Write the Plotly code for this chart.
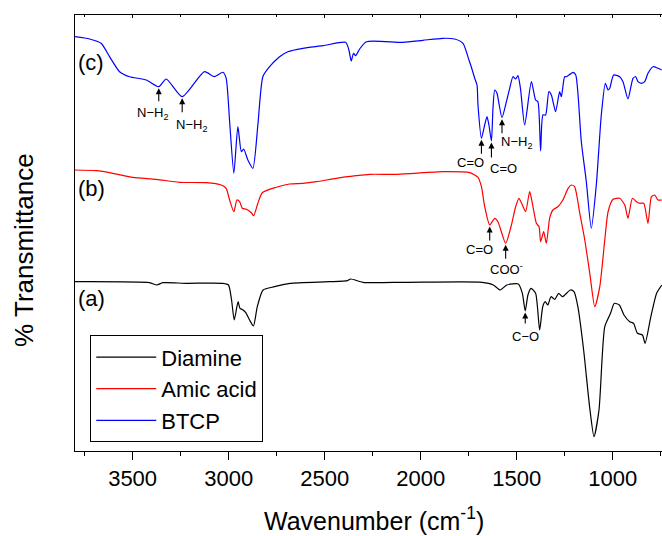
import numpy as np
import plotly.graph_objects as go

# ---------------- data (wavenumber in cm-1, transmittance in arbitrary offset units) ----------------
btcp_wn = [3800, 3724, 3664, 3620, 3568, 3516, 3429, 3364, 3325, 3242, 3126, 3074, 3030, 3013, 2995,
           2973, 2952, 2934, 2922, 2900, 2874, 2848, 2822, 2787, 2735, 2692, 2614, 2509, 2391, 2374,
           2362, 2350, 2339, 2318, 2283, 2093, 1989, 1885, 1824, 1780, 1749, 1737, 1719, 1707, 1702,
           1684, 1667, 1655, 1645, 1632, 1624, 1615, 1603, 1593, 1577, 1554, 1537, 1520, 1506, 1494,
           1481, 1459, 1424, 1402, 1390, 1376, 1364, 1350, 1333, 1320, 1298, 1277, 1268, 1251, 1242,
           1207, 1193, 1181, 1164, 1138, 1112, 1086, 1060, 1039, 1025, 1016, 996, 964, 947, 921,
           895, 881, 869, 851, 834, 817, 791, 765, 746]
btcp_t = [414.3, 412, 407.7, 394.3, 379.3, 374.3, 371, 364.3, 372, 354.3, 379.3, 374.3, 378.7, 372.7, 329.3,
          277.7, 324.3, 299.3, 302, 291, 282.7, 326, 374.3, 384.3, 394.3, 399.3, 402.7, 405.3, 408.7, 401,
          390, 397.7, 395.3, 402, 409.3, 408.7, 410.7, 412.7, 412, 407.7, 391, 384.3, 372.7, 366, 346,
          312.7, 326, 334.3, 326, 310, 342.7, 361, 357.7, 347.7, 333.3, 349.3, 362.7, 374.3, 372, 375.3,
          362.7, 326, 369.3, 351, 349.3, 300, 336, 336, 359.3, 356, 339.3, 359.3, 354.3, 374.3, 374.3,
          378.7, 376, 356, 309.3, 269.3, 222.7, 266, 336, 367.7, 361, 362.7, 376, 374.3, 369.3, 352,
          372.7, 374.3, 369.3, 367.7, 369.3, 377.7, 384.3, 382.7, 381]

amic_wn = [3800, 3690, 3603, 3499, 3377, 3256, 3117, 3039, 3013, 2995, 2973, 2957, 2943, 2929, 2908,
           2882, 2870, 2848, 2825, 2752, 2683, 2614, 2544, 2440, 2336, 2266, 2120, 1881, 1745, 1702,
           1684, 1667, 1641, 1615, 1598, 1558, 1528, 1506, 1489, 1471, 1454, 1433, 1419, 1398, 1384,
           1376, 1360, 1346, 1329, 1312, 1286, 1260, 1233, 1216, 1199, 1172, 1146, 1120, 1094, 1068,
           1042, 1025, 999, 964, 938, 921, 898, 877, 860, 839, 817, 799, 782, 765, 745]
amic_t = [281, 280.3, 277.7, 273.7, 271.7, 268.7, 268.3, 266, 262.7, 251, 239.3, 251, 249.3, 242.7, 241.7,
          238.3, 235.3, 247.7, 258.3, 263.7, 267, 267.7, 269.3, 272.7, 275.3, 276.7, 276.7, 279.3, 278.3, 273.7,
          264.3, 244.3, 226, 232.7, 229.3, 207.7, 226, 244.3, 252.7, 246, 239.3, 259.3, 247.7, 227.7, 224.3,
          209.3, 219.3, 207.7, 232.7, 241, 244.3, 251, 262.7, 266, 264.3, 237.7, 211, 177.7, 144.3, 164.3,
          211, 239, 251.7, 252.7, 246, 232.7, 252.7, 249.3, 247.7, 247.7, 227.7, 254.3, 256, 251, 251]

diamine_wn = [3800, 3412, 3374, 3343, 3221, 3030, 3001, 2985, 2971, 2951, 2941, 2925, 2911, 2891, 2871,
              2851, 2821, 2761, 2681, 2481, 2381, 2365, 2301, 2081, 1681, 1622, 1586, 1552, 1492, 1471,
              1456, 1442, 1426, 1402, 1381, 1365, 1352, 1338, 1322, 1302, 1282, 1262, 1221, 1202, 1182,
              1152, 1121, 1098, 1072, 1042, 1012, 992, 966, 942, 912, 892, 872, 846, 832, 802,
              772, 745]
diamine_t = [169.3, 168.3, 166, 168.3, 167.7, 167.7, 166, 151, 131, 149.3, 142.7, 141, 138.3, 131, 125,
             144.3, 161, 164.3, 167.7, 169.3, 170.3, 172, 168.7, 168.7, 168.7, 166, 161, 166, 167, 157.7,
             140, 156, 162.7, 157.7, 121, 144.3, 149.3, 146, 154.3, 151.7, 157.7, 154.3, 161, 159.3, 144.3,
             101, 44.3, 14.3, 41, 124.3, 137.7, 147.7, 146, 136, 129.3, 127.7, 117.7, 116, 107.7, 134.3,
             157.7, 166]

series_names = ["Diamine", "Amic acid", "BTCP"]
series_labels = ["(a)", "(b)", "(c)"]
series_label_t = [153, 263, 389]

x_ticks = [3500, 3000, 2500, 2000, 1500, 1000]
x_range = [3800, 744]
y_range = [0, 436]

# peak markers: (series, wavenumber, label text)
peaks = [
    ("BTCP", 3364, "N\u2212H<sub>2</sub>"),
    ("BTCP", 3242, "N\u2212H<sub>2</sub>"),
    ("BTCP", 1684, "C=O"),
    ("BTCP", 1632, "C=O"),
    ("BTCP", 1577, "N\u2212H<sub>2</sub>"),
    ("Amic acid", 1641, "C=O"),
    ("Amic acid", 1558, "COO<sup>-</sup>"),
    ("Diamine", 1456, "C\u2212O"),
]
# layout of each marker: arrow length, label dx, label dy (pixels)
peak_layout = [(16, -6, 27), (17, 9, 29), (17, -11, 24), (18, 12, 27), (17, 14, 25),
               (17, -10, 24), (17, 1, 26), (14, 0, 25)]

# ---------------- figure ----------------
FONT = "Arial, Liberation Sans, sans-serif"
colors = {"Diamine": "#000000", "Amic acid": "#ff0000", "BTCP": "#0000ff"}
data = {"Diamine": (diamine_wn, diamine_t), "Amic acid": (amic_wn, amic_t), "BTCP": (btcp_wn, btcp_t)}

fig = go.Figure()
for name in series_names:
    wn, t = data[name]
    fig.add_trace(go.Scatter(x=wn, y=t, mode="lines", name=name,
                             line=dict(color=colors[name], width=1.2, shape="spline", smoothing=0.6)))

# dummy trace so that the top axis is drawn
fig.add_trace(go.Scatter(x=[x_range[0]], y=[0], xaxis="x2", mode="none", showlegend=False, hoverinfo="skip"))

ann = []
for (name, w0, txt), (alen, dx, dy) in zip(peaks, peak_layout):
    wn, t = data[name]
    wn_a = np.array(wn)
    t_a = np.array(t)
    mask = np.abs(wn_a - w0) <= 10
    ytip = float(t_a[mask].min())
    ann.append(dict(x=w0, y=ytip, xref="x", yref="y", text="", showarrow=True,
                    ax=0, ay=alen, arrowhead=2, arrowsize=1.1, arrowwidth=1.1,
                    arrowcolor="black", standoff=1.5))
    ann.append(dict(x=w0, y=ytip, xref="x", yref="y", text=txt, showarrow=False,
                    xanchor="center", yanchor="middle",
                    xshift=dx, yshift=-dy, font=dict(family=FONT, size=13, color="black")))

for lab, yv in zip(series_labels, series_label_t):
    ann.append(dict(x=0.0275, y=yv, xref="paper", yref="y", text=lab, showarrow=False,
                    xanchor="center", yanchor="middle",
                    font=dict(family=FONT, size=22, color="black")))

ann.append(dict(x=-0.088, y=0.462, xref="paper", yref="paper", text="% Transmittance",
                xanchor="center", yanchor="middle",
                textangle=-90, showarrow=False, font=dict(family=FONT, size=26, color="black")))
ann.append(dict(x=0.509, y=-0.157, xref="paper", yref="paper", text="Wavenumber (cm<sup>-1</sup>)",
                xanchor="center", yanchor="middle",
                showarrow=False, font=dict(family=FONT, size=25, color="black")))

fig.update_layout(
    width=662, height=536,
    margin=dict(l=75, r=0, t=15, b=85),
    paper_bgcolor="white", plot_bgcolor="white",
    font=dict(family=FONT, color="black"),
    showlegend=True,
    legend=dict(x=0.026, y=0.02, xanchor="left", yanchor="bottom",
                bordercolor="black", borderwidth=1, bgcolor="white",
                font=dict(family=FONT, size=22, color="black"),
                itemwidth=60),
    xaxis=dict(range=x_range, tickvals=x_ticks, ticks="outside", ticklen=8, tickwidth=1,
               tickcolor="black", showline=True, linecolor="black", linewidth=1,
               showgrid=False, zeroline=False,
               tickfont=dict(family=FONT, size=22, color="black"),
               minor=dict(dtick=250, tick0=0, ticks="outside", ticklen=4, tickcolor="black", tickwidth=1)),
    xaxis2=dict(range=x_range, overlaying="x", side="top", anchor="y", showticklabels=False,
                tickvals=x_ticks, ticks="inside", ticklen=3, tickcolor="black",
                showline=True, linecolor="black", linewidth=1, showgrid=False, zeroline=False,
                minor=dict(dtick=250, tick0=0, ticks="inside", ticklen=2, tickcolor="black")),
    yaxis=dict(range=y_range, showline=True, linecolor="black", linewidth=1.2, ticks="",
               showticklabels=False, showgrid=False, zeroline=False),
    annotations=ann,
)

fig.write_html("out.html")
